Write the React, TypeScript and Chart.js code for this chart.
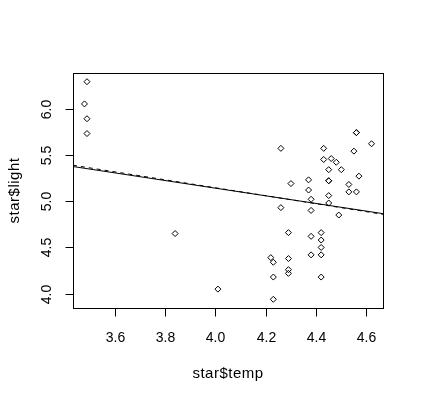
import React, { useEffect, useRef } from "react";
import { Chart, registerables } from "chart.js";

Chart.register(...registerables);

const temp = [4.37, 4.56, 4.26, 4.56, 4.30, 4.46, 3.84, 4.57, 4.26, 4.37, 3.49, 4.43, 4.48, 4.01, 4.29, 4.42, 4.23, 4.42, 4.23, 3.49, 4.29, 4.29, 4.42, 4.49, 4.38, 4.42, 4.29, 4.38, 4.22, 3.48, 4.38, 4.56, 4.45, 3.49, 4.23, 4.62, 4.53, 4.45, 4.53, 4.43, 4.38, 4.45, 4.50, 4.45, 4.55, 4.45, 4.42];
const light = [5.23, 5.74, 4.93, 5.74, 5.19, 5.46, 4.65, 5.27, 5.57, 5.12, 5.73, 5.45, 5.42, 4.05, 4.26, 4.58, 3.94, 4.18, 4.18, 5.89, 4.38, 4.22, 4.42, 4.85, 5.02, 4.66, 4.66, 4.90, 4.39, 6.05, 4.42, 5.10, 5.22, 6.29, 4.34, 5.62, 5.10, 5.22, 5.18, 5.57, 4.62, 5.06, 5.34, 5.34, 5.54, 4.98, 4.50];

const xRange = [3.4344, 4.6656];
const yRange = [3.846, 6.384];
const fitSolidY = [5.374, 4.865];
const fitDashedY = [5.388, 4.858];

const xTicks = [3.6, 3.8, 4.0, 4.2, 4.4, 4.6];
const yTicks = [4.0, 4.5, 5.0, 5.5, 6.0];
const xTitle = "star$temp";
const yTitle = "star$light";

const TICK_FONT = '14px "Liberation Sans", Arial, sans-serif';
const TITLE_FONT = '15px "Liberation Sans", Arial, sans-serif';

const rPlot = {
  id: "rPlot",
  afterDraw(chart: any) {
    const ctx = chart.ctx;
    const ca = chart.chartArea;
    const xs = chart.scales.x;
    const ys = chart.scales.y;
    ctx.save();
    ctx.strokeStyle = "#000";
    ctx.lineWidth = 1;
    ctx.strokeRect(Math.round(ca.left) + 0.5, Math.round(ca.top) + 0.5, Math.round(ca.right - ca.left), Math.round(ca.bottom - ca.top));
    ctx.fillStyle = "#000";
    ctx.font = TICK_FONT;
    ctx.textAlign = "center";
    ctx.textBaseline = "middle";
    for (const t of xTicks) {
      const px = Math.round(xs.getPixelForValue(t)) + 0.5;
      ctx.beginPath();
      ctx.moveTo(px, Math.round(ca.bottom) + 0.5);
      ctx.lineTo(px, Math.round(ca.bottom) + 8.5);
      ctx.stroke();
      ctx.fillText(t.toFixed(1), px, 338);
    }
    for (const t of yTicks) {
      const py = Math.round(ys.getPixelForValue(t)) + 0.5;
      ctx.beginPath();
      ctx.moveTo(Math.round(ca.left) + 0.5, py);
      ctx.lineTo(Math.round(ca.left) - 7.5, py);
      ctx.stroke();
      ctx.save();
      ctx.translate(47, py);
      ctx.rotate(-Math.PI / 2);
      ctx.fillText(t.toFixed(1), 0, 0);
      ctx.restore();
    }
    ctx.font = TITLE_FONT;
    try { (ctx as any).letterSpacing = "0.5px"; } catch (e) {}
    ctx.fillText(xTitle, (ca.left + ca.right) / 2, 374);
    ctx.save();
    ctx.translate(15, (ca.top + ca.bottom) / 2);
    ctx.rotate(-Math.PI / 2);
    ctx.fillText(yTitle, 0, 0);
    ctx.restore();
    ctx.restore();
  },
};

export default function App() {
  const ref = useRef<HTMLCanvasElement>(null);
  useEffect(() => {
    if (!ref.current) return;
    const chart = new Chart(ref.current, {
      type: "scatter",
      data: {
        datasets: [
          {
            data: temp.map((x, i) => ({ x, y: light[i] })),
            pointStyle: "rectRot",
            pointRadius: 3,
            pointBorderColor: "#000",
            pointBackgroundColor: "rgba(0,0,0,0)",
            pointBorderWidth: 1,
            showLine: false,
          },
          {
            data: xRange.map((x, i) => ({ x, y: fitSolidY[i] })),
            showLine: true,
            borderColor: "#000",
            borderWidth: 1,
            pointRadius: 0,
          },
          {
            data: xRange.map((x, i) => ({ x, y: fitDashedY[i] })),
            showLine: true,
            borderColor: "#000",
            borderWidth: 1,
            borderDash: [4, 4],
            pointRadius: 0,
          },
        ],
      },
      options: {
        animation: false,
        responsive: false,
        maintainAspectRatio: false,
        layout: { padding: { left: 73, top: 73, right: 38, bottom: 92 } },
        plugins: { legend: { display: false }, tooltip: { enabled: false } },
        scales: {
          x: { type: "linear", min: xRange[0], max: xRange[1], display: false },
          y: { type: "linear", min: yRange[0], max: yRange[1], display: false },
        },
      },
      plugins: [rPlot],
    });
    return () => chart.destroy();
  }, []);
  return (
    <div style={{ position: "fixed", left: 0, top: 0, width: 421, height: 400, background: "#fff" }}>
      <canvas ref={ref} width={421} height={400} style={{ width: 421, height: 400 }} />
    </div>
  );
}
